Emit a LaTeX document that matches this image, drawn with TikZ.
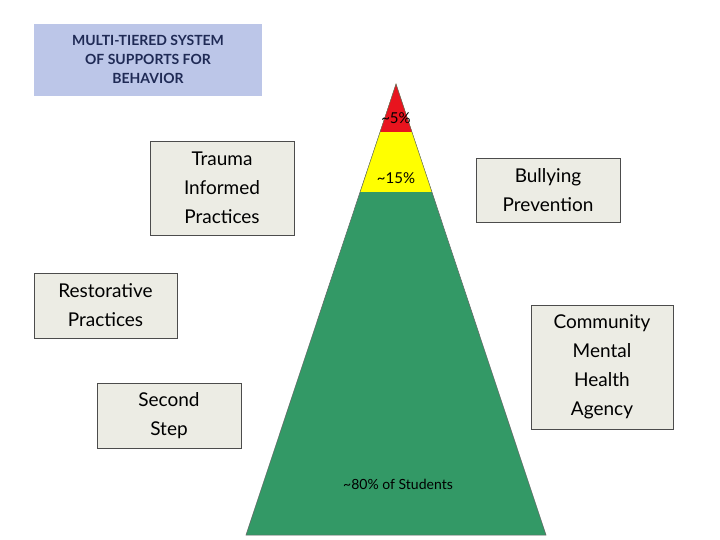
\documentclass[tikz,border=0pt]{standalone}
\usepackage{fontspec}
\setmainfont{Lato}
\definecolor{tblue}{HTML}{BCC6E8}
\definecolor{tnavy}{HTML}{1F2A55}
\definecolor{boxf}{HTML}{ECECE4}
\definecolor{pgreen}{HTML}{339966}
\definecolor{pred}{HTML}{E8141E}
\definecolor{pyel}{HTML}{FFFF00}
\begin{document}
\begin{tikzpicture}[x=1pt,y=-1pt,
  box/.style={draw=black!70,fill=boxf,align=center,font=\fontsize{19}{29}\selectfont,inner sep=0pt},
  pct/.style={font=\fontsize{15}{18}\selectfont}]
\useasboundingbox (0,0) rectangle (720,540);
\fill[tblue] (34,24) rectangle (262,96);
\node[font=\bfseries\fontsize{14}{19}\selectfont,text=tnavy,align=center] (title) at (148,59) {MULTI-TIERED SYSTEM\\OF SUPPORTS FOR\\BEHAVIOR};
% pyramid
\coordinate (apex) at (396,84);
\coordinate (bl) at (246,535);
\coordinate (br) at (546,535);
\fill[pgreen] (apex) -- (bl) -- (br) -- cycle;
\fill[pyel] (apex) -- (360,192) -- (432,192) -- cycle;
\fill[pred] (apex) -- (380,132) -- (412,132) -- cycle;
\draw[black!60,line width=0.5pt] (apex) -- (bl) -- (br) -- cycle;
\node[pct] (p5) at (396,118) {\textasciitilde5\%};
\node[pct] (p15) at (396,178) {\textasciitilde15\%};
\node[font=\fontsize{14}{16}\selectfont] (p80) at (398,484) {\textasciitilde80\% of Students};
\node[box,minimum width=144,minimum height=94] (trauma) at (222,188) {Trauma\\Informed\\Practices};
\node[box,minimum width=144,minimum height=64] (bully) at (548,190) {Bullying\\Prevention};
\node[box,minimum width=143,minimum height=65] (rest) at (105.5,305.5) {Restorative\\Practices};
\node[box,minimum width=142,minimum height=124] (comm) at (602,367) {Community\\Mental\\Health\\Agency};
\node[box,minimum width=144,minimum height=65] (second) at (169,415.5) {Second\\Step};
\end{tikzpicture}
\end{document}
